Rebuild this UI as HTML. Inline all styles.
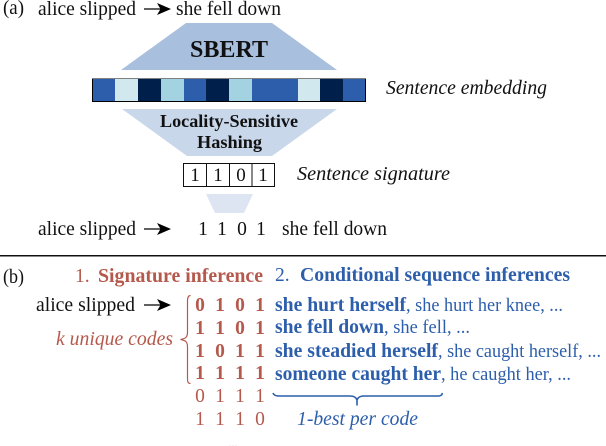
<!DOCTYPE html>
<html><head><meta charset="utf-8">
<style>
html,body{margin:0;padding:0;background:#fff;width:606px;height:446px;overflow:hidden}
svg{display:block}
text{font-family:"Liberation Serif",serif;font-size:19.5px;fill:#111}
.b{font-weight:bold}
.i{font-style:italic}
.r{fill:#b5594c}
.u{fill:#2c5eab}
.d{text-anchor:middle}
</style></head><body>
<svg width="606" height="446" viewBox="0 0 606 446" xmlns="http://www.w3.org/2000/svg">
<defs>
<g id="arr"><path d="M0 0H20" stroke="#000" stroke-width="1.2"/><path d="M13 -6L27 0L13 6L16.5 0Z" fill="#000"/></g>
</defs>
<text x="3" y="14" textLength="21" lengthAdjust="spacingAndGlyphs">(a)</text>
<text x="38" y="15" textLength="98" lengthAdjust="spacingAndGlyphs">alice slipped</text>
<use href="#arr" x="144" y="9"/>
<text x="176" y="15" textLength="105" lengthAdjust="spacingAndGlyphs">she fell down</text>

<polygon points="186,23 272,23 337,70 121,70" fill="#a9bfde"/>
<text class="b" x="190" y="57" textLength="78" lengthAdjust="spacingAndGlyphs" style="font-size:24px">SBERT</text>

<rect x="92" y="78.5" width="274" height="23.5" fill="#000"/>
<rect x="93" y="79" width="22" height="22" fill="#2c5eab"/>
<rect x="115" y="79" width="23" height="22" fill="#d1e8ef"/>
<rect x="138" y="79" width="23" height="22" fill="#011f4b"/>
<rect x="161" y="79" width="23" height="22" fill="#a3d3e0"/>
<rect x="184" y="79" width="22" height="22" fill="#2c5eab"/>
<rect x="206" y="79" width="23" height="22" fill="#011f4b"/>
<rect x="229" y="79" width="23" height="22" fill="#a3d3e0"/>
<rect x="252" y="79" width="46" height="22" fill="#2c5eab"/>
<rect x="298" y="79" width="22" height="22" fill="#d1e8ef"/>
<rect x="320" y="79" width="23" height="22" fill="#011f4b"/>
<rect x="343" y="79" width="22" height="22" fill="#2c5eab"/>
<text class="i" x="386" y="94" textLength="161" lengthAdjust="spacingAndGlyphs">Sentence embedding</text>

<polygon points="122,109 337,109 272,156 187,156" fill="#c9d7ea"/>
<text class="b" x="160" y="127" textLength="138" lengthAdjust="spacingAndGlyphs" style="font-size:18px">Locality-Sensitive</text>
<text class="b" x="197" y="148" textLength="65" lengthAdjust="spacingAndGlyphs" style="font-size:18px">Hashing</text>

<rect x="183.5" y="163.5" width="91" height="23" fill="#fff" stroke="#111" stroke-width="1"/>
<path d="M206.5 163.5V186.5M229.5 163.5V186.5M252 163.5V186.5" stroke="#111" stroke-width="1"/>
<text class="d" x="195" y="181" style="font-size:19px">1</text>
<text class="d" x="218" y="181" style="font-size:19px">1</text>
<text class="d" x="241" y="181" style="font-size:19px">0</text>
<text class="d" x="263" y="181" style="font-size:19px">1</text>
<text class="i" x="297" y="180" textLength="153" lengthAdjust="spacingAndGlyphs">Sentence signature</text>

<polygon points="206,194 253,194 244,213 215,213" fill="#dde5f2"/>
<text x="38" y="235" textLength="98" lengthAdjust="spacingAndGlyphs">alice slipped</text>
<use href="#arr" x="144" y="229"/>
<text class="d" x="203" y="235">1</text>
<text class="d" x="222" y="235">1</text>
<text class="d" x="242" y="235">0</text>
<text class="d" x="261" y="235">1</text>
<text x="282" y="235" textLength="105" lengthAdjust="spacingAndGlyphs">she fell down</text>

<rect x="0" y="255" width="606" height="1.5" fill="#111"/>

<text x="3" y="283" textLength="21" lengthAdjust="spacingAndGlyphs">(b)</text>
<text class="r" x="75" y="282">1.</text>
<text class="r b" x="98" y="282" textLength="165" lengthAdjust="spacingAndGlyphs">Signature inference</text>
<text class="u" x="275" y="281">2.</text>
<text class="u b" x="300" y="281" textLength="270" lengthAdjust="spacingAndGlyphs">Conditional sequence inferences</text>

<text x="36" y="311" textLength="99" lengthAdjust="spacingAndGlyphs">alice slipped</text>
<use href="#arr" x="144" y="305"/>
<text class="r i" x="56" y="345" textLength="117" lengthAdjust="spacingAndGlyphs">k unique codes</text>
<path d="M190.5 295.5C188 295.5 187.5 298 187.5 301V332C187.5 337 186 338.500 180.500 339.500C186 340.500 187.500 342 187.500 347V378C187.500 382 188 383.500 190.500 383.500" fill="none" stroke="#b5594c" stroke-width="1.2"/>

<text class="r b d" x="200" y="311">0</text><text class="r b d" x="220" y="311">1</text><text class="r b d" x="240" y="311">0</text><text class="r b d" x="260" y="311">1</text>
<text class="r b d" x="200" y="334">1</text><text class="r b d" x="220" y="334">1</text><text class="r b d" x="240" y="334">0</text><text class="r b d" x="260" y="334">1</text>
<text class="r b d" x="200" y="357">1</text><text class="r b d" x="220" y="357">0</text><text class="r b d" x="240" y="357">1</text><text class="r b d" x="260" y="357">1</text>
<text class="r b d" x="200" y="379">1</text><text class="r b d" x="220" y="379">1</text><text class="r b d" x="240" y="379">1</text><text class="r b d" x="260" y="379">1</text>
<text class="r d" x="200" y="402">0</text><text class="r d" x="220" y="402">1</text><text class="r d" x="240" y="402">1</text><text class="r d" x="260" y="402">1</text>
<text class="r d" x="200" y="425">1</text><text class="r d" x="220" y="425">1</text><text class="r d" x="240" y="425">1</text><text class="r d" x="260" y="425">0</text>
<text class="r d" x="233" y="447" style="font-size:12px;opacity:.6">...</text>

<text class="u b" x="275" y="311" textLength="131" lengthAdjust="spacingAndGlyphs">she hurt herself</text>
<text class="u" x="406" y="311" textLength="157" lengthAdjust="spacingAndGlyphs" style="font-size:18.5px">, she hurt her knee, ...</text>
<text class="u b" x="275" y="333" textLength="109" lengthAdjust="spacingAndGlyphs">she fell down</text>
<text class="u" x="384" y="333" textLength="86" lengthAdjust="spacingAndGlyphs" style="font-size:18.5px">, she fell, ...</text>
<text class="u b" x="275" y="357" textLength="163" lengthAdjust="spacingAndGlyphs">she steadied herself</text>
<text class="u" x="438" y="357" textLength="163" lengthAdjust="spacingAndGlyphs" style="font-size:18.5px">, she caught herself, ...</text>
<text class="u b" x="275" y="380" textLength="166" lengthAdjust="spacingAndGlyphs">someone caught her</text>
<text class="u" x="441" y="380" textLength="130" lengthAdjust="spacingAndGlyphs" style="font-size:18.5px">, he caught her, ...</text>

<path d="M273 393C274 395.500 276 396 280 396H350C354 396 356 397 357 400V405.500M357 400C358 397 360 396 364 396H438C441 396 442 395 442.500 393" fill="none" stroke="#2c5eab" stroke-width="1.6"/>
<text class="u i" x="297" y="425" textLength="121" lengthAdjust="spacingAndGlyphs">1-best per code</text>
</svg>
</body></html>
